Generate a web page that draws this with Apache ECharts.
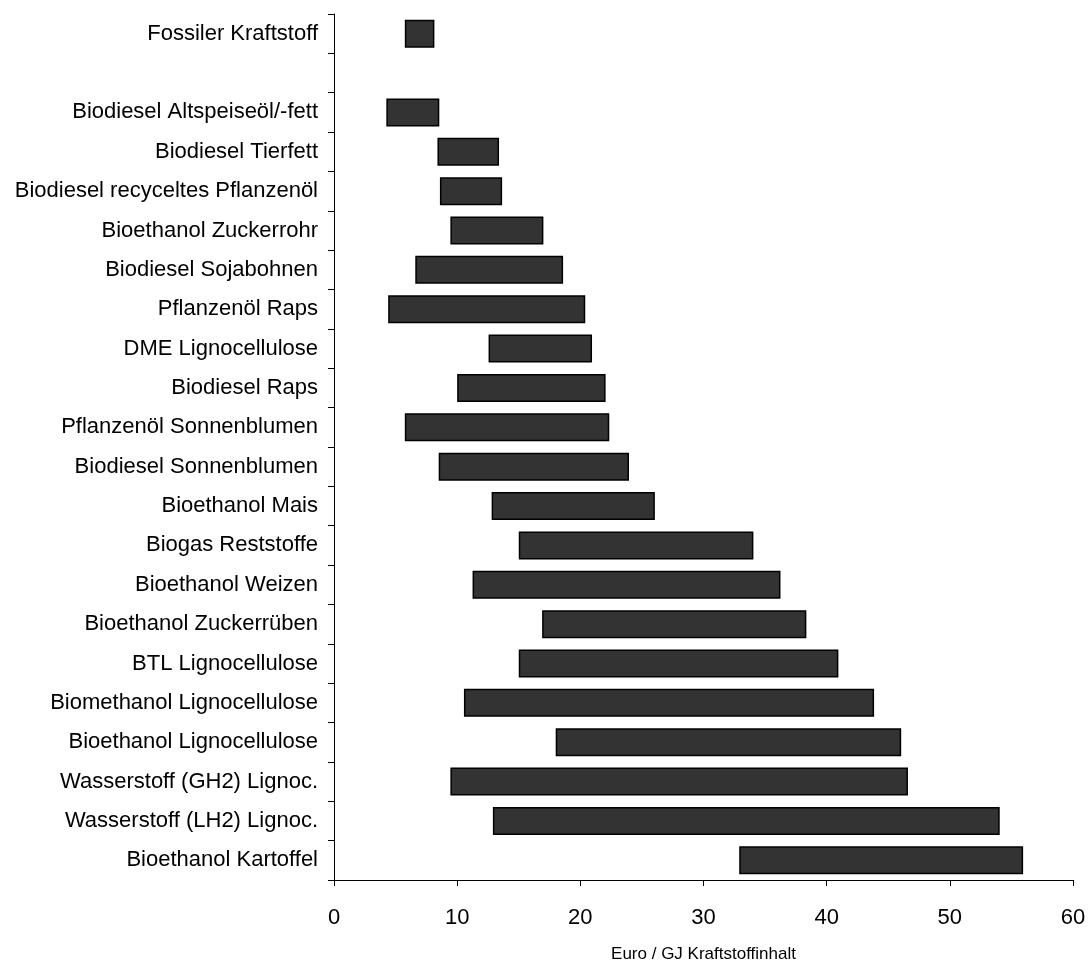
<!DOCTYPE html>
<html>
<head>
<meta charset="utf-8">
<script src="https://cdn.jsdelivr.net/npm/echarts@6/dist/echarts.min.js"></script>
<style>html,body{margin:0;padding:0;background:#fff;}#c{width:1090px;height:965px;}</style>
</head>
<body>
<div id="c"></div>
<script>
const categories = [
  'Fossiler Kraftstoff', '',
  'Biodiesel Altspeiseöl/-fett', 'Biodiesel Tierfett', 'Biodiesel recyceltes Pflanzenöl',
  'Bioethanol Zuckerrohr', 'Biodiesel Sojabohnen', 'Pflanzenöl Raps', 'DME Lignocellulose',
  'Biodiesel Raps', 'Pflanzenöl Sonnenblumen', 'Biodiesel Sonnenblumen', 'Bioethanol Mais',
  'Biogas Reststoffe', 'Bioethanol Weizen', 'Bioethanol Zuckerrüben', 'BTL Lignocellulose',
  'Biomethanol Lignocellulose', 'Bioethanol Lignocellulose', 'Wasserstoff (GH2) Lignoc.',
  'Wasserstoff (LH2) Lignoc.', 'Bioethanol Kartoffel'
];
const minValues = [5.75, null, 4.25, 8.4, 8.6, 9.45, 6.6, 4.4, 12.55, 10.0, 5.75, 8.5, 12.8,
  15.0, 11.25, 16.9, 15.0, 10.55, 18.0, 9.45, 12.9, 32.9];
const maxValues = [8.15, null, 8.55, 13.4, 13.65, 17.0, 18.6, 20.4, 20.95, 22.05, 22.35, 23.95, 26.05,
  34.05, 36.25, 38.35, 40.95, 43.85, 46.05, 46.6, 54.05, 55.95];
const xTicks = [0, 10, 20, 30, 40, 50, 60];
const xAxisName = 'Euro / GJ Kraftstoffinhalt';

const baseData = minValues.map(v => v == null ? '-' : v);
const spanData = maxValues.map((v, i) => v == null ? '-' : +(v - minValues[i]).toFixed(3));

const FONT = 'Liberation Sans, Arial, sans-serif';
const chart = echarts.init(document.getElementById('c'), null, {renderer: 'canvas'});
chart.setOption({
  animation: false,
  backgroundColor: '#ffffff',
  textStyle: {fontFamily: FONT},
  grid: {left: 334, right: 17, top: 14, bottom: 85, containLabel: false, outerBoundsMode: 'none'},
  xAxis: {
    type: 'value', min: xTicks[0], max: xTicks[xTicks.length - 1], interval: 10,
    splitLine: {show: false},
    axisLine: {show: true, lineStyle: {color: '#000', width: 1}},
    axisTick: {show: true, inside: false, length: 6, lineStyle: {color: '#000'}},
    axisLabel: {color: '#000', fontSize: 22, margin: 27, fontFamily: FONT},
    name: xAxisName, nameLocation: 'middle', nameGap: 66,
    nameTextStyle: {color: '#000', fontSize: 17, fontFamily: FONT}
  },
  yAxis: {
    type: 'category', data: categories, inverse: true,
    axisLine: {show: true, lineStyle: {color: '#000', width: 1}},
    axisTick: {show: true, inside: false, length: 6, alignWithLabel: false, interval: 0, lineStyle: {color: '#000'}},
    axisLabel: {color: '#000', fontSize: 22, margin: 16, interval: 0, fontFamily: FONT},
    splitLine: {show: false}
  },
  series: [
    {
      type: 'bar', stack: 'r', data: baseData, barWidth: 28,
      itemStyle: {color: 'transparent', borderWidth: 0},
      silent: true
    },
    {
      type: 'bar', stack: 'r', data: spanData, barWidth: 28,
      itemStyle: {color: '#333333', borderColor: '#000000', borderWidth: 1.5}
    }
  ]
});
</script>
</body>
</html>
